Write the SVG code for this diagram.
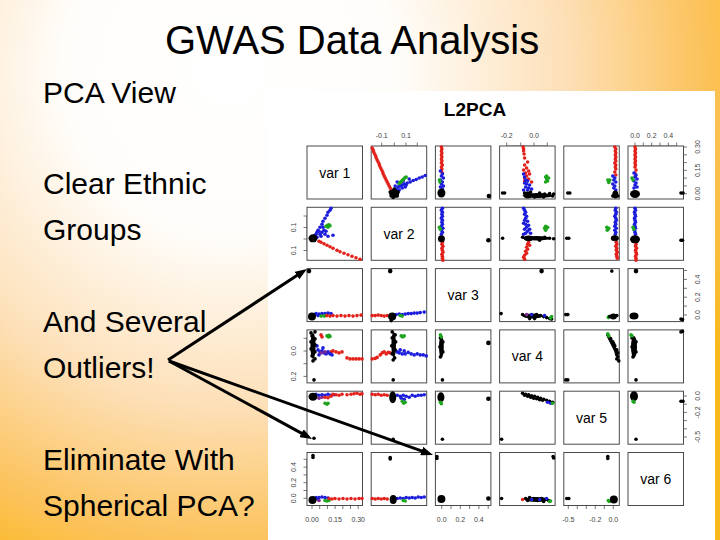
<svg xmlns="http://www.w3.org/2000/svg" width="720" height="540" viewBox="0 0 720 540">
<defs>
<radialGradient id="bg" gradientUnits="userSpaceOnUse" cx="230" cy="70" r="560">
<stop offset="0" stop-color="#ffffff"/>
<stop offset="0.3" stop-color="#fffdfa"/>
<stop offset="0.6" stop-color="#fde0b8"/>
<stop offset="0.85" stop-color="#fcc25a"/>
<stop offset="1" stop-color="#fbb81c"/>
</radialGradient>
<marker id="ah" markerUnits="userSpaceOnUse" markerWidth="12" markerHeight="9" refX="5" refY="4.5" orient="auto">
<path d="M0,0 L12,4.5 L0,9 z" fill="#000"/>
</marker>
<style>
.fr{fill:#fff;stroke:#4a4a4a;stroke-width:1}
circle{r:1.8px}
.r{fill:#e3211b}.b{fill:#1c1cdc}.g{fill:#1fa51f}.k{fill:#000}.p{fill:#7a2a90}
.big{r:2.3px}
.ax{stroke:#555;stroke-width:0.8;fill:none}
.tl{font-family:"Liberation Sans",Arial,sans-serif;font-size:7px;fill:#444;text-anchor:middle}
.vl{font-family:"Liberation Sans",Arial,sans-serif;font-size:14px;fill:#000;text-anchor:middle}
.main{font-family:"Liberation Sans",Arial,sans-serif;font-size:30px;fill:#000}
.arr{stroke:#000;stroke-width:3;fill:none;marker-end:url(#ah)}
</style>
</defs>
<rect width="720" height="540" fill="url(#bg)"/>
<text x="165" y="54" font-family="Liberation Sans, Arial, sans-serif" font-size="40" fill="#000">GWAS Data Analysis</text>
<g id="bullets">
<text class="main" x="43" y="103">PCA View</text>
<text class="main" x="43" y="194">Clear Ethnic</text>
<text class="main" x="43" y="240">Groups</text>
<text class="main" x="43" y="332">And Several</text>
<text class="main" x="43" y="378">Outliers!</text>
<text class="main" x="43" y="470">Eliminate With</text>
<text class="main" x="43" y="516">Spherical PCA?</text>
</g>
<g id="plot">
<rect x="268" y="91" width="447" height="449" fill="#fff"/>
<text x="475" y="116" font-family="Liberation Sans, Arial, sans-serif" font-size="19" font-weight="bold" text-anchor="middle" fill="#000">L2PCA</text>

<g id="axes">
<path class="ax" d="M381.7,146H417.3M381.7,146v-3.5M394.3,146v-3.5M406,146v-3.5M417.3,146v-3.5"/>
<text class="tl" x="381.7" y="137.5">-0.1</text><text class="tl" x="406" y="137.5">0.1</text>
<path class="ax" d="M506.7,146H547.3M506.7,146v-3.5M520.7,146v-3.5M534,146v-3.5M547.3,146v-3.5"/>
<text class="tl" x="506.7" y="137.5">-0.2</text><text class="tl" x="534" y="137.5">0.0</text>
<path class="ax" d="M635,146H676.7M635,146v-3.5M643.3,146v-3.5M651.7,146v-3.5M660,146v-3.5M668.3,146v-3.5M676.7,146v-3.5"/>
<text class="tl" x="635" y="137.5">0.0</text><text class="tl" x="651.7" y="137.5">0.2</text><text class="tl" x="668.3" y="137.5">0.4</text>

<path class="ax" d="M683.5,147V193.7M683.5,147h3.5M683.5,154.8h3.5M683.5,162.6h3.5M683.5,170.3h3.5M683.5,178.1h3.5M683.5,185.9h3.5M683.5,193.7h3.5"/>
<text class="tl" transform="translate(699.5,147) rotate(-90)">0.30</text>
<text class="tl" transform="translate(699.5,170.3) rotate(-90)">0.15</text>
<text class="tl" transform="translate(699.5,193.7) rotate(-90)">0.00</text>
<path class="ax" d="M683.5,270.5V315M683.5,270.5h3.5M683.5,279.4h3.5M683.5,288.3h3.5M683.5,297.2h3.5M683.5,306.1h3.5M683.5,315h3.5"/>
<text class="tl" transform="translate(699.5,279.4) rotate(-90)">0.4</text>
<text class="tl" transform="translate(699.5,297.2) rotate(-90)">0.2</text>
<text class="tl" transform="translate(699.5,315) rotate(-90)">0.0</text>
<path class="ax" d="M683.5,396V437M683.5,396h3.5M683.5,404.2h3.5M683.5,412.4h3.5M683.5,420.6h3.5M683.5,428.8h3.5M683.5,437h3.5"/>
<text class="tl" transform="translate(699.5,396) rotate(-90)">0.0</text>
<text class="tl" transform="translate(699.5,412.4) rotate(-90)">-0.2</text>
<text class="tl" transform="translate(699.5,437) rotate(-90)">-0.5</text>

<path class="ax" d="M307,216V250.5M307,216h-3.5M307,227.5h-3.5M307,239h-3.5M307,250.5h-3.5"/>
<text class="tl" transform="translate(295.5,227.5) rotate(-90)">0.1</text>
<text class="tl" transform="translate(295.5,250.5) rotate(-90)">0.1</text>
<path class="ax" d="M307,338.3V376.4M307,338.3h-3.5M307,351h-3.5M307,363.7h-3.5M307,376.4h-3.5"/>
<text class="tl" transform="translate(295.5,351) rotate(-90)">0.0</text>
<text class="tl" transform="translate(295.5,376.4) rotate(-90)">0.2</text>
<path class="ax" d="M307,459.3V498.3M307,459.3h-3.5M307,467.1h-3.5M307,474.9h-3.5M307,482.7h-3.5M307,490.5h-3.5M307,498.3h-3.5"/>
<text class="tl" transform="translate(295.5,467.1) rotate(-90)">0.4</text>
<text class="tl" transform="translate(295.5,482.7) rotate(-90)">0.2</text>
<text class="tl" transform="translate(295.5,498.3) rotate(-90)">0.0</text>

<path class="ax" d="M312,505.5H358.2M312,505.5v3.5M319.7,505.5v3.5M327.4,505.5v3.5M335.1,505.5v3.5M342.8,505.5v3.5M350.5,505.5v3.5M358.2,505.5v3.5"/>
<text class="tl" x="312" y="521.5">0.00</text><text class="tl" x="335.1" y="521.5">0.15</text><text class="tl" x="358.2" y="521.5">0.30</text>
<path class="ax" d="M441.7,505.5H488.2M441.7,505.5v3.5M451,505.5v3.5M460.3,505.5v3.5M469.6,505.5v3.5M478.9,505.5v3.5M488.2,505.5v3.5"/>
<text class="tl" x="441.7" y="521.5">0.0</text><text class="tl" x="460.3" y="521.5">0.2</text><text class="tl" x="478.9" y="521.5">0.4</text>
<path class="ax" d="M568.3,505.5H613.3M568.3,505.5v3.5M577.3,505.5v3.5M586.3,505.5v3.5M595.3,505.5v3.5M604.3,505.5v3.5M613.3,505.5v3.5"/>
<text class="tl" x="568.3" y="521.5">-0.5</text><text class="tl" x="595.3" y="521.5">-0.2</text><text class="tl" x="613.3" y="521.5">0.0</text>
</g>

<!-- Row 1 -->
<g id="p11" transform="translate(307,146)"><rect class="fr" width="55.5" height="53"/><text class="vl" x="27.75" y="31.5">var 1</text></g>
<g id="p12" transform="translate(371.2,146)"><rect class="fr" width="55.5" height="53"/>
<g class="r"><circle cx="1" cy="2"/><circle cx="2" cy="4"/><circle cx="2.5" cy="6"/><circle cx="3.5" cy="8"/><circle cx="4.5" cy="10"/><circle cx="5" cy="12"/><circle cx="6" cy="14"/><circle cx="7" cy="16"/><circle cx="8" cy="18"/><circle cx="8.5" cy="20"/><circle cx="9.5" cy="22"/><circle cx="10.5" cy="24"/><circle cx="11.5" cy="26"/><circle cx="12" cy="28"/><circle cx="13" cy="30"/><circle cx="14" cy="32"/><circle cx="15" cy="34"/><circle cx="16" cy="36"/><circle cx="17" cy="38"/><circle cx="18" cy="40"/><circle cx="19" cy="42"/><circle cx="20" cy="44"/></g>
<g class="b"><circle cx="25" cy="43"/><circle cx="27" cy="41"/><circle cx="29" cy="40"/><circle cx="31" cy="39"/><circle cx="33" cy="38"/><circle cx="36" cy="37"/><circle cx="39" cy="36"/><circle cx="42" cy="34.5"/><circle cx="45" cy="33.5"/><circle cx="48" cy="32"/><circle cx="51" cy="31"/><circle cx="54" cy="29.5"/><circle cx="26" cy="36"/><circle cx="28" cy="38"/><circle cx="30" cy="36"/><circle cx="24" cy="40"/><circle cx="32" cy="35"/><circle cx="35" cy="39"/><circle cx="38" cy="33"/><circle cx="31" cy="42"/><circle cx="28" cy="44"/><circle cx="34" cy="41"/></g>
<g class="g"><circle cx="28" cy="37.5"/><circle cx="29" cy="36.5"/><circle cx="30" cy="35.5"/><circle cx="31" cy="34.5"/><circle cx="32" cy="33.5"/><circle cx="33" cy="32.5"/><circle cx="34" cy="31.5"/><circle cx="35" cy="31"/></g>
<g class="k"><ellipse cx="23" cy="47.5" rx="5" ry="4.5"/><circle cx="19" cy="46"/><circle cx="27" cy="46"/><circle cx="20" cy="50"/><circle cx="26" cy="50"/><circle cx="23" cy="43"/><circle cx="22" cy="51.5"/></g>
</g>
<g id="p13" transform="translate(435.4,146)"><rect class="fr" width="55.5" height="53"/>
<g class="r"><circle cx="6" cy="1"/><circle cx="6.5" cy="3"/><circle cx="6" cy="5"/><circle cx="6.5" cy="7"/><circle cx="6" cy="9"/><circle cx="6.5" cy="11"/><circle cx="6" cy="13"/><circle cx="6.5" cy="15"/><circle cx="6" cy="17"/><circle cx="7" cy="19"/><circle cx="6" cy="21"/><circle cx="6.5" cy="23"/><circle cx="6" cy="25"/><circle cx="7" cy="27"/></g>
<g class="b"><circle cx="5" cy="25"/><circle cx="7" cy="28"/><circle cx="6" cy="30"/><circle cx="8" cy="32"/><circle cx="5" cy="34"/><circle cx="7" cy="36"/><circle cx="6" cy="38"/><circle cx="8" cy="40"/><circle cx="5" cy="41"/><circle cx="7" cy="43"/></g>
<g class="g"><circle cx="4" cy="34"/><circle cx="4.5" cy="36"/></g>
<g class="k"><ellipse cx="6" cy="47" rx="4" ry="4.5"/><circle class="big" cx="53.5" cy="50"/></g>
</g>
<g id="p14" transform="translate(499.6,146)"><rect class="fr" width="55.5" height="53"/>
<g class="r"><circle cx="23.5" cy="1"/><circle cx="24" cy="3"/><circle cx="24" cy="5"/><circle cx="24.5" cy="8"/><circle cx="25" cy="12"/><circle cx="28" cy="16"/><circle cx="25" cy="19"/><circle cx="27" cy="22"/><circle cx="24" cy="24"/><circle cx="29" cy="25"/><circle cx="26" cy="27"/><circle cx="30" cy="28"/><circle cx="27" cy="30"/><circle cx="25" cy="32"/><circle cx="29" cy="33"/><circle cx="32" cy="36"/><circle cx="25" cy="35"/></g>
<g class="b"><circle cx="24" cy="28"/><circle cx="25" cy="31"/><circle cx="26" cy="34"/><circle cx="28" cy="35"/><circle cx="25" cy="37"/><circle cx="27" cy="38"/><circle cx="30" cy="39"/><circle cx="26" cy="41"/><circle cx="29" cy="42"/><circle cx="32" cy="43"/><circle cx="24" cy="44"/><circle cx="28" cy="44"/></g>
<g class="g"><circle cx="46" cy="31"/><circle cx="47" cy="33"/><circle cx="48" cy="35"/><circle cx="46" cy="36"/><circle cx="49" cy="32"/><circle cx="47" cy="30"/></g>
<g class="k"><ellipse cx="38" cy="49.5" rx="15" ry="2.5"/><ellipse cx="28" cy="49" rx="4" ry="3.5"/><circle cx="25" cy="47"/><circle cx="31" cy="46"/><circle cx="40" cy="47"/><circle cx="45" cy="48"/><circle cx="50" cy="47.5"/><circle cx="54" cy="48"/><circle cx="53" cy="50"/><circle cx="35" cy="51"/><circle cx="44" cy="51"/><circle cx="3" cy="47"/><circle cx="5" cy="47"/></g>
</g>
<g id="p15" transform="translate(563.8,146)"><rect class="fr" width="55.5" height="53"/>
<g class="r"><circle cx="51" cy="1"/><circle cx="52" cy="3"/><circle cx="51.5" cy="5"/><circle cx="52" cy="7"/><circle cx="51.5" cy="9"/><circle cx="52" cy="11"/><circle cx="51.5" cy="13"/><circle cx="52" cy="15"/><circle cx="51" cy="17"/><circle cx="52" cy="19"/><circle cx="51.5" cy="21"/><circle cx="52" cy="23"/><circle cx="51" cy="26"/><circle cx="52" cy="29"/></g>
<g class="b"><circle cx="49" cy="30"/><circle cx="51" cy="32"/><circle cx="50" cy="34"/><circle cx="52" cy="36"/><circle cx="49" cy="38"/><circle cx="51" cy="40"/><circle cx="50" cy="42"/><circle cx="52" cy="44"/></g>
<g class="g"><circle cx="44" cy="34"/><circle cx="45" cy="35.5"/><circle cx="46" cy="34"/><circle cx="45" cy="36.5"/></g>
<g class="k"><ellipse cx="51.5" cy="48.5" rx="3" ry="4"/><circle cx="49" cy="50"/><circle cx="54" cy="50"/><circle cx="4" cy="47"/><circle cx="6" cy="47"/></g>
</g>
<g id="p16" transform="translate(628,146)"><rect class="fr" width="55.5" height="53"/>
<g class="r"><circle cx="7" cy="1"/><circle cx="7.5" cy="3"/><circle cx="7" cy="5"/><circle cx="7.5" cy="7"/><circle cx="7" cy="9"/><circle cx="7.5" cy="11"/><circle cx="7" cy="13"/><circle cx="7.5" cy="15"/><circle cx="7" cy="17"/><circle cx="7.5" cy="19"/><circle cx="7" cy="21"/><circle cx="8" cy="24"/><circle cx="7" cy="27"/><circle cx="7.5" cy="30"/></g>
<g class="b"><circle cx="6" cy="27"/><circle cx="8" cy="29"/><circle cx="7" cy="31"/><circle cx="9" cy="33"/><circle cx="6" cy="35"/><circle cx="8" cy="37"/><circle cx="7" cy="39"/><circle cx="9" cy="41"/><circle cx="6" cy="42"/></g>
<g class="g"><circle cx="4" cy="32"/><circle cx="5" cy="34"/></g>
<g class="k"><ellipse cx="7" cy="48" rx="5" ry="4"/><circle cx="53" cy="47"/><circle cx="55" cy="47"/></g>
</g>

<!-- Row 2 -->
<g id="p21" transform="translate(307,207.3)"><rect class="fr" width="55.5" height="53"/>
<g class="b"><circle cx="8" cy="28"/><circle cx="10" cy="25"/><circle cx="11" cy="23"/><circle cx="13" cy="20"/><circle cx="15" cy="17"/><circle cx="16" cy="14"/><circle cx="18" cy="11"/><circle cx="20" cy="8"/><circle cx="21" cy="5"/><circle cx="23" cy="3"/><circle cx="24" cy="1"/><circle cx="10" cy="30"/><circle cx="13" cy="27"/><circle cx="15" cy="25"/><circle cx="17" cy="23"/><circle cx="19" cy="24"/><circle cx="16" cy="20"/><circle cx="12" cy="24"/><circle cx="18" cy="27"/><circle cx="21" cy="29"/><circle cx="14" cy="29"/><circle cx="26" cy="28"/><circle cx="9" cy="27"/></g>
<g class="g"><circle cx="19" cy="19"/><circle cx="20.5" cy="18"/><circle cx="22" cy="17.5"/><circle cx="23" cy="18.5"/><circle cx="21" cy="20"/></g>
<g class="r"><circle cx="12" cy="34"/><circle cx="14" cy="35"/><circle cx="17" cy="36.5"/><circle cx="20" cy="38"/><circle cx="23" cy="39.5"/><circle cx="26" cy="41"/><circle cx="30" cy="43"/><circle cx="33" cy="44.5"/><circle cx="37" cy="46"/><circle cx="41" cy="47.5"/><circle cx="45" cy="49"/><circle cx="49" cy="50.5"/><circle cx="53" cy="52"/></g>
<g class="k"><ellipse cx="6" cy="31" rx="4.5" ry="4"/></g>
</g>
<g id="p22" transform="translate(371.2,207.3)"><rect class="fr" width="55.5" height="53"/><text class="vl" x="27.75" y="31.5">var 2</text></g>
<g id="p23" transform="translate(435.4,207.3)"><rect class="fr" width="55.5" height="53"/>
<g class="b"><circle cx="7" cy="1"/><circle cx="6" cy="3"/><circle cx="7" cy="5"/><circle cx="6.5" cy="7"/><circle cx="7" cy="9"/><circle cx="6" cy="11"/><circle cx="7" cy="13"/><circle cx="6.5" cy="15"/><circle cx="7" cy="17"/><circle cx="6" cy="19"/><circle cx="7.5" cy="21"/><circle cx="6" cy="23"/><circle cx="7" cy="25"/><circle cx="6" cy="27"/></g>
<g class="g"><circle cx="4" cy="20"/><circle cx="5" cy="22"/></g>
<g class="r"><circle cx="7" cy="35"/><circle cx="6.5" cy="37"/><circle cx="7.5" cy="39"/><circle cx="6.5" cy="41"/><circle cx="7" cy="43"/><circle cx="7.5" cy="45"/><circle cx="6.5" cy="47"/><circle cx="7" cy="49"/><circle cx="7" cy="51"/><circle cx="7.5" cy="53"/></g>
<g class="k"><ellipse cx="6" cy="31.5" rx="3.5" ry="3.5"/><circle class="big" cx="53" cy="33"/></g>
</g>
<g id="p24" transform="translate(499.6,207.3)"><rect class="fr" width="55.5" height="53"/>
<g class="b"><circle cx="24" cy="1"/><circle cx="25" cy="3"/><circle cx="26" cy="5"/><circle cx="25" cy="7"/><circle cx="27" cy="9"/><circle cx="26" cy="11"/><circle cx="25" cy="13"/><circle cx="28" cy="14"/><circle cx="24" cy="16"/><circle cx="26" cy="17"/><circle cx="29" cy="18"/><circle cx="27" cy="20"/><circle cx="25" cy="22"/><circle cx="30" cy="22"/><circle cx="28" cy="24"/><circle cx="26" cy="26"/><circle cx="31" cy="26"/><circle cx="24" cy="27"/></g>
<g class="g"><circle cx="45" cy="21"/><circle cx="46" cy="19"/><circle cx="47" cy="21"/><circle cx="48" cy="20"/><circle cx="46" cy="23"/></g>
<g class="r"><circle cx="29" cy="35"/><circle cx="28" cy="37"/><circle cx="30" cy="38"/><circle cx="27" cy="40"/><circle cx="28" cy="42"/><circle cx="26" cy="44"/><circle cx="27" cy="46"/><circle cx="25" cy="48"/><circle cx="24" cy="50"/><circle cx="25" cy="52"/></g>
<g class="k"><ellipse cx="37" cy="31" rx="14" ry="2.2"/><ellipse cx="29" cy="31" rx="5" ry="2.8"/><circle cx="45" cy="30"/><circle cx="50" cy="31"/><circle cx="54" cy="31.5"/><circle cx="23" cy="30"/><circle cx="40" cy="33"/><circle cx="3" cy="31"/></g>
</g>
<g id="p25" transform="translate(563.8,207.3)"><rect class="fr" width="55.5" height="53"/>
<g class="b"><circle cx="52" cy="1"/><circle cx="51.5" cy="3"/><circle cx="52.5" cy="5"/><circle cx="52" cy="7"/><circle cx="51" cy="9"/><circle cx="52" cy="11"/><circle cx="52.5" cy="13"/><circle cx="51.5" cy="15"/><circle cx="52" cy="17"/><circle cx="51" cy="19"/><circle cx="52.5" cy="21"/><circle cx="51" cy="23"/><circle cx="52" cy="25"/><circle cx="51.5" cy="27"/></g>
<g class="g"><circle cx="43" cy="20"/><circle cx="44" cy="22"/><circle cx="45" cy="21"/><circle cx="43.5" cy="23"/></g>
<g class="r"><circle cx="52.5" cy="35"/><circle cx="53" cy="37"/><circle cx="52" cy="39"/><circle cx="53" cy="41"/><circle cx="52.5" cy="43"/><circle cx="53.5" cy="45"/><circle cx="52.5" cy="47"/><circle cx="53" cy="49"/><circle cx="53.5" cy="51"/></g>
<g class="k"><ellipse cx="51" cy="31" rx="4" ry="3"/><circle cx="3" cy="31"/><circle cx="5" cy="31"/></g>
</g>
<g id="p26" transform="translate(628,207.3)"><rect class="fr" width="55.5" height="53"/>
<g class="b"><circle cx="7" cy="1"/><circle cx="7.5" cy="3"/><circle cx="6.5" cy="5"/><circle cx="7" cy="7"/><circle cx="7.5" cy="9"/><circle cx="6.5" cy="11"/><circle cx="7" cy="13"/><circle cx="7.5" cy="15"/><circle cx="6.5" cy="17"/><circle cx="7" cy="19"/><circle cx="7.5" cy="21"/><circle cx="6.5" cy="23"/><circle cx="7" cy="25"/><circle cx="7.5" cy="27"/></g>
<g class="g"><circle cx="5" cy="20"/><circle cx="6" cy="22"/></g>
<g class="r"><circle cx="8" cy="37"/><circle cx="7.5" cy="39"/><circle cx="8.5" cy="41"/><circle cx="7.5" cy="43"/><circle cx="8" cy="45"/><circle cx="8.5" cy="47"/><circle cx="7.5" cy="49"/><circle cx="8" cy="51"/><circle cx="8" cy="53"/></g>
<g class="k"><ellipse cx="7" cy="32" rx="5" ry="4"/><circle cx="53" cy="33"/><circle cx="54.5" cy="33"/></g>
</g>

<!-- Row 3 -->
<g id="p31" transform="translate(307,268.6)"><rect class="fr" width="55.5" height="53"/>
<g class="b"><circle cx="9" cy="45"/><circle cx="12" cy="45.5"/><circle cx="15" cy="45"/><circle cx="18" cy="45"/><circle cx="21" cy="44.5"/><circle cx="24" cy="45"/><circle cx="11" cy="47"/><circle cx="14" cy="46.5"/></g>
<g class="g"><circle cx="14" cy="47.5"/><circle cx="17" cy="47.5"/><circle cx="19" cy="47"/></g>
<g class="r"><circle cx="20" cy="47"/><circle cx="23" cy="47.5"/><circle cx="26" cy="47"/><circle cx="30" cy="47.5"/><circle cx="34" cy="47"/><circle cx="38" cy="47.5"/><circle cx="42" cy="47"/><circle cx="46" cy="47.5"/><circle cx="50" cy="47"/><circle cx="54" cy="46.5"/></g>
<g class="k"><ellipse cx="5" cy="48" rx="4" ry="4"/><circle class="big" cx="2" cy="2.5"/></g>
</g>
<g id="p32" transform="translate(371.2,268.6)"><rect class="fr" width="55.5" height="53"/>
<g class="r"><circle cx="1" cy="47"/><circle cx="4" cy="47"/><circle cx="7" cy="46.5"/><circle cx="10" cy="47"/><circle cx="13" cy="47.5"/><circle cx="16" cy="47"/></g>
<g class="b"><circle cx="25" cy="46"/><circle cx="28" cy="45.5"/><circle cx="31" cy="46"/><circle cx="34" cy="45.5"/><circle cx="37" cy="45"/><circle cx="40" cy="45"/><circle cx="43" cy="44.5"/><circle cx="46" cy="44.5"/><circle cx="49" cy="44"/><circle cx="53" cy="43.5"/></g>
<g class="g"><circle cx="29" cy="47"/><circle cx="31" cy="47.5"/></g>
<g class="k"><ellipse cx="21" cy="48" rx="4" ry="4"/><circle cx="20" cy="52"/><circle class="big" cx="19" cy="2.5"/></g>
</g>
<g id="p33" transform="translate(435.4,268.6)"><rect class="fr" width="55.5" height="53"/><text class="vl" x="27.75" y="31.5">var 3</text></g>
<g id="p34" transform="translate(499.6,268.6)"><rect class="fr" width="55.5" height="53"/>
<g class="k"><ellipse cx="33" cy="47.5" rx="10" ry="2.5"/><circle cx="23" cy="46"/><circle cx="26" cy="47"/><circle cx="29" cy="48"/><circle cx="37" cy="46"/><circle cx="41" cy="47"/><circle cx="44" cy="48"/><circle cx="47" cy="49"/><circle cx="50" cy="50"/><circle cx="52" cy="50.5"/><circle cx="30" cy="50"/><circle cx="35" cy="50"/><circle class="big" cx="42" cy="2.5"/><circle cx="1.5" cy="45"/></g>
<g><circle class="p" cx="27" cy="46"/><circle class="b" cx="32" cy="46"/><circle class="b" cx="45" cy="47"/></g>
<g class="g"><circle cx="51" cy="49.5"/><circle cx="52" cy="48"/></g>
</g>
<g id="p35" transform="translate(563.8,268.6)"><rect class="fr" width="55.5" height="53"/>
<g class="g"><circle cx="44.5" cy="49"/><circle cx="45" cy="48"/></g>
<g class="k"><ellipse cx="49.5" cy="48" rx="3.5" ry="3"/><circle cx="46" cy="48"/><circle cx="53" cy="47"/><circle cx="48" cy="2.5"/><circle cx="2" cy="46"/><circle cx="4" cy="46"/></g>
</g>
<g id="p36" transform="translate(628,268.6)"><rect class="fr" width="55.5" height="53"/>
<g class="k"><ellipse cx="6" cy="47.5" rx="4.5" ry="3.5"/><circle class="big" cx="8" cy="2.5"/><circle cx="53" cy="50.5"/><circle cx="54.5" cy="51"/></g>
</g>

<!-- Row 4 -->
<g id="p41" transform="translate(307,329.9)"><rect class="fr" width="55.5" height="53"/>
<g class="g"><circle cx="20" cy="6"/><circle cx="21.5" cy="7"/><circle cx="23" cy="6.5"/><circle cx="22" cy="5.5"/></g>
<g class="r"><circle cx="14" cy="5"/><circle cx="15" cy="7"/><circle cx="20" cy="23"/><circle cx="24" cy="22"/><circle cx="26" cy="21"/><circle cx="29" cy="22"/><circle cx="32" cy="23"/><circle cx="35" cy="22"/><circle cx="40" cy="28"/><circle cx="43" cy="29"/><circle cx="46" cy="29"/><circle cx="49" cy="29"/><circle cx="52" cy="29"/><circle cx="55" cy="29"/></g>
<g class="b"><circle cx="11" cy="20"/><circle cx="13" cy="22"/><circle cx="15" cy="21"/><circle cx="17" cy="23"/><circle cx="19" cy="24"/><circle cx="21" cy="22"/><circle cx="23" cy="24"/><circle cx="25" cy="25"/><circle cx="12" cy="25"/><circle cx="10" cy="16"/><circle cx="16" cy="18"/></g>
<g class="p"><circle cx="14" cy="23"/><circle cx="18" cy="22"/></g>
<g class="k"><ellipse cx="6" cy="16" rx="2.6" ry="13"/><circle cx="4" cy="3"/><circle cx="8" cy="2"/><circle cx="5" cy="6"/><circle cx="8" cy="9"/><circle cx="4" cy="12"/><circle cx="8" cy="15"/><circle cx="4" cy="19"/><circle cx="8" cy="22"/><circle cx="5" cy="26"/><circle cx="8" cy="29"/><circle cx="6" cy="31"/><circle cx="7" cy="50"/></g>
</g>
<g id="p42" transform="translate(371.2,329.9)"><rect class="fr" width="55.5" height="53"/>
<g class="g"><circle cx="30" cy="6"/><circle cx="31.5" cy="7"/><circle cx="33" cy="6"/></g>
<g class="r"><circle cx="1" cy="29"/><circle cx="4" cy="28.5"/><circle cx="6" cy="27.5"/><circle cx="9" cy="25"/><circle cx="11" cy="23"/><circle cx="13" cy="22"/><circle cx="15" cy="24"/><circle cx="17" cy="22.5"/><circle cx="19" cy="23"/></g>
<g class="b"><circle cx="26" cy="22"/><circle cx="28" cy="23"/><circle cx="31" cy="24"/><circle cx="34" cy="24"/><circle cx="37" cy="22.5"/><circle cx="40" cy="24"/><circle cx="43" cy="25"/><circle cx="46" cy="24"/><circle cx="49" cy="25"/><circle cx="52" cy="25"/><circle cx="55" cy="26"/><circle cx="29" cy="20"/><circle cx="33" cy="21"/></g>
<g class="k"><ellipse cx="22.5" cy="15" rx="2.3" ry="13"/><circle cx="21" cy="2"/><circle cx="24" cy="5"/><circle cx="21" cy="8"/><circle cx="24.5" cy="12"/><circle cx="20.5" cy="16"/><circle cx="24" cy="20"/><circle cx="21" cy="24"/><circle cx="23.5" cy="28"/><circle cx="22" cy="30"/><circle cx="22" cy="50"/></g>
</g>
<g id="p43" transform="translate(435.4,329.9)"><rect class="fr" width="55.5" height="53"/>
<g class="k"><ellipse cx="6" cy="17" rx="2.4" ry="11"/><circle cx="5" cy="8"/><circle cx="7.5" cy="12"/><circle cx="4.5" cy="17"/><circle cx="7.5" cy="22"/><circle cx="5" cy="27"/><circle class="big" cx="53" cy="13"/><circle cx="7" cy="50"/></g>
<g class="g"><circle cx="5" cy="5"/><circle cx="6" cy="7"/></g>
</g>
<g id="p44" transform="translate(499.6,329.9)"><rect class="fr" width="55.5" height="53"/><text class="vl" x="27.75" y="31.5">var 4</text></g>
<g id="p45" transform="translate(563.8,329.9)"><rect class="fr" width="55.5" height="53"/>
<g class="k"><circle cx="44" cy="5"/><circle cx="45" cy="7"/><circle cx="46" cy="9"/><circle cx="47" cy="11"/><circle cx="48" cy="13"/><circle cx="49" cy="15"/><circle cx="50" cy="17"/><circle cx="51" cy="19"/><circle cx="52" cy="21"/><circle cx="52.5" cy="23"/><circle cx="53" cy="25"/><circle cx="54" cy="27"/><circle cx="53" cy="29"/><circle cx="55" cy="31"/><circle cx="47" cy="9"/><circle cx="49" cy="12"/><circle cx="51" cy="16"/><circle cx="50" cy="14"/><circle cx="53" cy="20"/><circle cx="54" cy="23"/><circle cx="2" cy="50"/><circle cx="4" cy="50"/></g>
<g class="g"><circle cx="44" cy="4"/><circle cx="45" cy="6"/></g>
</g>
<g id="p46" transform="translate(628,329.9)"><rect class="fr" width="55.5" height="53"/>
<g class="k"><ellipse cx="6" cy="17" rx="3" ry="11"/><circle cx="4" cy="8"/><circle cx="8" cy="12"/><circle cx="4" cy="17"/><circle cx="8" cy="22"/><circle cx="5" cy="27"/><circle cx="53" cy="2"/><circle cx="54.5" cy="1.5"/><circle cx="8" cy="50"/></g>
<g class="g"><circle cx="3" cy="5"/><circle cx="4" cy="6"/></g>
</g>

<!-- Row 5 -->
<g id="p51" transform="translate(307,391.2)"><rect class="fr" width="55.5" height="53"/>
<g class="b"><circle cx="9" cy="3"/><circle cx="12" cy="4"/><circle cx="15" cy="3.5"/><circle cx="18" cy="4"/><circle cx="21" cy="3"/><circle cx="24" cy="4"/><circle cx="27" cy="3.5"/></g>
<g class="p"><circle cx="12" cy="7"/><circle cx="15" cy="6"/></g>
<g class="r"><circle cx="18" cy="6"/><circle cx="21" cy="6.5"/><circle cx="24" cy="5"/><circle cx="26" cy="3"/><circle cx="29" cy="3.5"/><circle cx="32" cy="4"/><circle cx="35" cy="3"/><circle cx="40" cy="3.5"/><circle cx="44" cy="3"/><circle cx="47" cy="2.5"/><circle cx="50" cy="2"/><circle cx="53" cy="3"/><circle cx="55" cy="2.5"/></g>
<g class="g"><circle cx="18" cy="12"/><circle cx="20" cy="13"/><circle cx="21" cy="12"/></g>
<g class="k"><ellipse cx="6" cy="5.5" rx="4.5" ry="4"/><circle cx="7" cy="47"/></g>
</g>
<g id="p52" transform="translate(371.2,391.2)"><rect class="fr" width="55.5" height="53"/>
<g class="r"><circle cx="1" cy="3"/><circle cx="4" cy="3.5"/><circle cx="7" cy="3"/><circle cx="10" cy="4"/><circle cx="13" cy="3.5"/><circle cx="16" cy="4"/></g>
<g class="b"><circle cx="26" cy="4"/><circle cx="29" cy="5"/><circle cx="32" cy="4"/><circle cx="35" cy="5"/><circle cx="38" cy="6"/><circle cx="41" cy="4"/><circle cx="44" cy="5"/><circle cx="47" cy="4"/><circle cx="50" cy="4"/><circle cx="53" cy="3.5"/><circle cx="30" cy="7"/><circle cx="33" cy="8"/></g>
<g class="g"><circle cx="31" cy="10"/><circle cx="32.5" cy="12"/><circle cx="34" cy="11"/></g>
<g class="k"><ellipse cx="21.5" cy="6" rx="3.5" ry="6"/><circle cx="22" cy="48"/></g>
</g>
<g id="p53" transform="translate(435.4,391.2)"><rect class="fr" width="55.5" height="53"/>
<g class="k"><ellipse cx="5.5" cy="6" rx="3.5" ry="5"/><circle class="big" cx="53" cy="7.5"/><circle cx="7" cy="48"/></g>
<g class="g"><circle cx="5" cy="11"/><circle cx="6" cy="12.5"/></g>
</g>
<g id="p54" transform="translate(499.6,391.2)"><rect class="fr" width="55.5" height="53"/>
<g class="k"><circle cx="23" cy="2"/><circle cx="26" cy="3"/><circle cx="29" cy="3.5"/><circle cx="32" cy="4.5"/><circle cx="35" cy="5"/><circle cx="38" cy="6"/><circle cx="41" cy="7"/><circle cx="44" cy="8"/><circle cx="47" cy="9"/><circle cx="50" cy="10"/><circle cx="53" cy="11"/><circle cx="25" cy="4"/><circle cx="28" cy="5"/><circle cx="31" cy="6"/><circle cx="34" cy="7"/><circle cx="37" cy="7.5"/><circle cx="40" cy="8.5"/><circle cx="43" cy="9"/><circle cx="2" cy="48"/></g>
<g class="b"><circle cx="48" cy="11"/><circle cx="51" cy="12"/></g>
<g class="g"><circle cx="53" cy="12"/></g>
</g>
<g id="p55" transform="translate(563.8,391.2)"><rect class="fr" width="55.5" height="53"/><text class="vl" x="27.75" y="31.5">var 5</text></g>
<g id="p56" transform="translate(628,391.2)"><rect class="fr" width="55.5" height="53"/>
<g class="k"><ellipse cx="6" cy="5" rx="4" ry="5"/><circle cx="53" cy="10"/><circle cx="55" cy="10"/><circle cx="8" cy="48"/></g>
<g class="g"><circle cx="5" cy="10"/><circle cx="6" cy="11"/></g>
</g>

<!-- Row 6 -->
<g id="p61" transform="translate(307,452.5)"><rect class="fr" width="55.5" height="53"/>
<g class="b"><circle cx="9" cy="45"/><circle cx="12" cy="45"/><circle cx="15" cy="44.5"/><circle cx="18" cy="45"/><circle cx="21" cy="45.5"/><circle cx="11" cy="47"/></g>
<g class="p"><circle cx="12" cy="48"/></g>
<g class="g"><circle cx="18" cy="48"/><circle cx="20" cy="48.5"/><circle cx="22" cy="48"/></g>
<g class="r"><circle cx="22" cy="46"/><circle cx="25" cy="46.5"/><circle cx="28" cy="46"/><circle cx="32" cy="46.5"/><circle cx="36" cy="46"/><circle cx="40" cy="46.5"/><circle cx="44" cy="46"/><circle cx="48" cy="46.5"/><circle cx="52" cy="46"/><circle cx="55" cy="46"/></g>
<g class="k"><ellipse cx="5.5" cy="47.5" rx="4" ry="4"/><circle cx="6" cy="3"/><circle cx="6" cy="5"/></g>
</g>
<g id="p62" transform="translate(371.2,452.5)"><rect class="fr" width="55.5" height="53"/>
<g class="r"><circle cx="1" cy="46"/><circle cx="4" cy="46.5"/><circle cx="7" cy="46"/><circle cx="10" cy="46.5"/><circle cx="13" cy="46"/><circle cx="16" cy="46.5"/></g>
<g class="b"><circle cx="26" cy="46"/><circle cx="29" cy="45.5"/><circle cx="32" cy="46"/><circle cx="35" cy="45"/><circle cx="38" cy="45.5"/><circle cx="41" cy="45"/><circle cx="44" cy="45.5"/><circle cx="47" cy="44.5"/><circle cx="50" cy="45"/><circle cx="53" cy="44.5"/></g>
<g class="g"><circle cx="32" cy="48"/><circle cx="34" cy="48.5"/></g>
<g class="k"><ellipse cx="22" cy="47" rx="3.5" ry="4.5"/><circle cx="19" cy="5"/><circle cx="19" cy="6.5"/></g>
</g>
<g id="p63" transform="translate(435.4,452.5)"><rect class="fr" width="55.5" height="53"/>
<g class="k"><ellipse cx="6" cy="46.5" rx="4" ry="4"/><circle cx="1.5" cy="4"/><circle cx="1.5" cy="6"/><circle class="big" cx="53" cy="46"/></g>
</g>
<g id="p64" transform="translate(499.6,452.5)"><rect class="fr" width="55.5" height="53"/>
<g class="k"><ellipse cx="37" cy="47" rx="12" ry="2.5"/><circle cx="26" cy="46"/><circle cx="30" cy="45"/><circle cx="34" cy="46"/><circle cx="38" cy="48"/><circle cx="42" cy="46"/><circle cx="46" cy="47"/><circle cx="49" cy="48"/><circle cx="28" cy="48"/><circle cx="44" cy="49"/><circle cx="53.5" cy="4"/><circle cx="54" cy="5.5"/><circle cx="2" cy="46"/></g>
<g class="b"><circle cx="32" cy="47"/><circle cx="40" cy="47"/><circle cx="47" cy="46"/></g>
<g class="r"><circle cx="23" cy="47"/></g>
<g class="g"><circle cx="50" cy="49"/><circle cx="51" cy="48.5"/></g>
</g>
<g id="p65" transform="translate(563.8,452.5)"><rect class="fr" width="55.5" height="53"/>
<g class="g"><circle cx="44.5" cy="48"/><circle cx="45.5" cy="49"/></g>
<g class="k"><ellipse cx="50" cy="47" rx="4" ry="4"/><circle cx="44" cy="4"/><circle cx="44" cy="6"/><circle cx="3" cy="46"/><circle cx="5" cy="46"/></g>
</g>
<g id="p66" transform="translate(628,452.5)"><rect class="fr" width="55.5" height="53"/><text class="vl" x="27.75" y="31.5">var 6</text></g>
</g>

<g id="connectors">
<line class="arr" x1="168" y1="360" x2="301.1" y2="272.8"/>
<line class="arr" x1="169" y1="361" x2="305.9" y2="435.6"/>
<line class="arr" x1="169" y1="361" x2="426.4" y2="452.7"/>
</g>
</svg>
